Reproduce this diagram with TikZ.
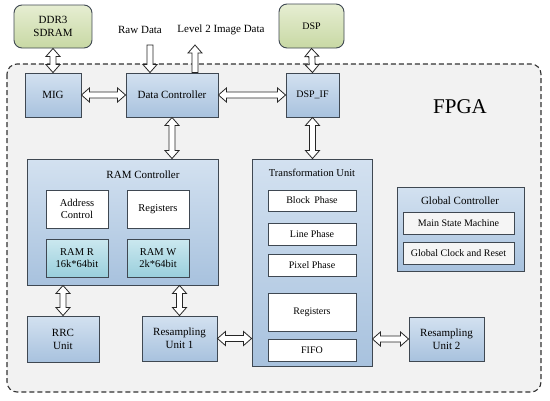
\documentclass[tikz,border=0pt]{standalone}
\usepackage{fontspec}
\setmainfont{Liberation Serif}
\usetikzlibrary{calc}
\definecolor{edge}{HTML}{3F4852}
\definecolor{btop}{HTML}{D3E1F0}
\definecolor{bbot}{HTML}{A8C2DE}
\definecolor{ttop}{HTML}{CBE8EF}
\definecolor{tbot}{HTML}{9ACFDC}
\definecolor{gtop}{HTML}{E6EED2}
\definecolor{gbot}{HTML}{C8D8A4}
\definecolor{fpgabg}{HTML}{F2F2F2}
\tikzset{
  base/.style={draw=edge, line width=0.9pt, inner sep=1pt, align=center,
    font=\fontsize{11}{13}\selectfont},
  bluebox/.style={base, top color=btop, bottom color=bbot},
  tealbox/.style={base, top color=ttop, bottom color=tbot, font=\fontsize{10.5}{12.5}\selectfont},
  greenbox/.style={base, top color=gtop, bottom color=gbot, rounded corners=8pt},
  whitebox/.style={base, fill=white, font=\fontsize{10.5}{12.5}\selectfont},
  graybox/.style={base, fill=white!96!black, font=\fontsize{10}{12}\selectfont},
  title/.style={inner sep=0pt, font=\fontsize{11}{13}\selectfont},
  lbl/.style={inner sep=0pt, font=\fontsize{11}{13}\selectfont},
  arr/.style={draw=black!85, fill=white, line width=0.8pt, line join=miter},
}
\newcommand\dblarr[2]{\draw[arr] (#1)
  -- ($(#1)!8pt!(#2)!7pt!90:(#2)$) -- ($(#1)!8pt!(#2)!3pt!90:(#2)$)
  -- ($(#2)!8pt!(#1)!3pt!-90:(#1)$) -- ($(#2)!8pt!(#1)!7pt!-90:(#1)$)
  -- (#2)
  -- ($(#2)!8pt!(#1)!7pt!90:(#1)$) -- ($(#2)!8pt!(#1)!3pt!90:(#1)$)
  -- ($(#1)!8pt!(#2)!3pt!-90:(#2)$) -- ($(#1)!8pt!(#2)!7pt!-90:(#2)$)
  -- cycle;}
\newcommand\sglarr[2]{\draw[arr] ($(#1)!3pt!90:(#2)$)
  -- ($(#2)!8pt!(#1)!3pt!-90:(#1)$) -- ($(#2)!8pt!(#1)!7pt!-90:(#1)$)
  -- (#2)
  -- ($(#2)!8pt!(#1)!7pt!90:(#1)$) -- ($(#2)!8pt!(#1)!3pt!90:(#1)$)
  -- ($(#1)!3pt!-90:(#2)$) -- cycle;}
\begin{document}
\begin{tikzpicture}[x=1pt,y=-1pt]
\useasboundingbox (0,0) rectangle (550,400);
\fill[white] (0,0) rectangle (550,400);
% FPGA region
\draw[fill=fpgabg, draw=black!80, line width=1.1pt, dash pattern=on 5pt off 3pt, rounded corners=10pt]
  (7,64) rectangle (541,392);
\node[inner sep=0pt, font=\fontsize{21}{24}\selectfont] (fpga) at (460,107) {FPGA};
% external
\node[greenbox, minimum width=78pt, minimum height=43pt] (ddr) at (53,26.5) {DDR3\\SDRAM};
\node[greenbox, minimum width=65pt, minimum height=44pt, font=\fontsize{10}{12}\selectfont] (dsp) at (311.5,26) {DSP};
\node[lbl] (raw) at (140,30) {Raw Data};
\node[lbl] (lvl) at (221,30) {Level 2 Image Data};
% top row
\node[bluebox, minimum width=56pt, minimum height=44pt] (mig) at (53,95) {MIG};
\node[bluebox, minimum width=92pt, minimum height=44pt] (dc) at (172,95) {Data Controller};
\node[bluebox, minimum width=53pt, minimum height=44pt, font=\fontsize{10}{12}\selectfont] (dspif) at (312.5,95) {DSP\_IF};
% RAM controller
\node[bluebox, minimum width=191pt, minimum height=126pt] (ramc) at (122.5,222) {};
\node[title] (ramct) at (143,175) {RAM Controller};
\node[whitebox, minimum width=62pt, minimum height=38pt] (addr) at (77,209) {Address\\Control};
\node[whitebox, minimum width=62pt, minimum height=38pt] (regr) at (158,209) {Registers};
\node[tealbox, minimum width=62pt, minimum height=38pt] (ramr) at (77,258) {RAM R\\16k*64bit};
\node[tealbox, minimum width=62pt, minimum height=38pt] (ramw) at (158,258) {RAM W\\2k*64bit};
% Transformation unit
\node[bluebox, minimum width=120pt, minimum height=207pt] (tu) at (312,262.5) {};
\node[title, font=\fontsize{10.5}{12.5}\selectfont] (tut) at (312,173) {Transformation Unit};
\node[whitebox, font=\fontsize{10}{12}\selectfont, minimum width=88pt, minimum height=21pt] (blk) at (312,200.5) {Block\, Phase};
\node[whitebox, font=\fontsize{10}{12}\selectfont, minimum width=88pt, minimum height=22pt] (line) at (312,234) {Line Phase};
\node[whitebox, font=\fontsize{10}{12}\selectfont, minimum width=88pt, minimum height=22pt] (pix) at (312,265) {Pixel Phase};
\node[whitebox, font=\fontsize{10}{12}\selectfont, minimum width=88pt, minimum height=38pt] (regt) at (312,312) {Registers};
\node[whitebox, font=\fontsize{10}{12}\selectfont, minimum width=88pt, minimum height=22pt] (fifo) at (312,350) {FIFO};
% Global controller
\node[bluebox, minimum width=127pt, minimum height=84pt] (gc) at (460.5,229) {};
\node[title] (gct) at (460,201) {Global Controller};
\node[graybox, minimum width=111pt, minimum height=22pt] (msm) at (458.5,223) {Main State Machine};
\node[graybox, minimum width=111pt, minimum height=22pt] (gcr) at (458.5,253) {Global Clock and Reset};
% bottom units
\node[bluebox, minimum width=72pt, minimum height=46pt] (rrc) at (63,339) {RRC\\Unit};
\node[bluebox, minimum width=75pt, minimum height=45pt] (res1) at (179.5,338.5) {Resampling\\Unit 1};
\node[bluebox, minimum width=75pt, minimum height=44pt] (res2) at (446.5,339) {Resampling\\Unit 2};
% connectors
\dblarr{ddr.south}{mig.north}
\dblarr{dsp.south}{dspif.north}
\dblarr{mig.east}{dc.west}
\dblarr{dc.east}{dspif.west}
\dblarr{dc.south}{dc.south |- ramc.north}
\dblarr{dspif.south}{dspif.south |- tu.north}
\dblarr{rrc.north |- ramc.south}{rrc.north}
\dblarr{res1.north |- ramc.south}{res1.north}
\dblarr{res1.east}{res1.east -| tu.west}
\dblarr{res2.west -| tu.east}{res2.west}
\coordinate (rawtail) at (150,45);
\coordinate (lvltip) at (195,45);
\sglarr{rawtail}{rawtail |- dc.north}
\sglarr{lvltip |- dc.north}{lvltip}
\end{tikzpicture}
\end{document}
